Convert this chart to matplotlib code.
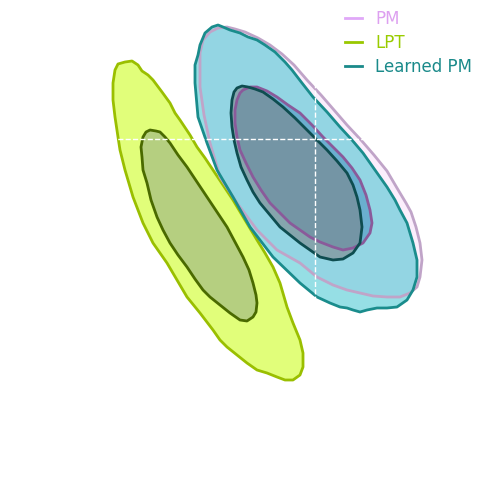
import numpy as np
import matplotlib
matplotlib.use("Agg")
import matplotlib.pyplot as plt

# contour outlines (x, y in plot units, y grows downward)
lpt_outer_x = [113, 115, 118, 125, 132, 138, 142, 148, 153, 162, 170, 175, 180, 190, 197, 205, 213, 223,
               233, 245, 257, 265, 273, 280, 287, 293, 300, 303, 303, 300, 293, 285, 277, 267, 257, 247,
               237, 227, 220, 213, 200, 187, 177, 167, 153, 143, 133, 125, 120, 118, 115, 113]
lpt_outer_y = [83, 70, 64, 62, 61, 65, 71, 75, 80, 92, 103, 113, 120, 135, 147, 158, 170, 185,
               200, 220, 240, 253, 267, 283, 307, 323, 340, 353, 367, 375, 380, 380, 377, 373, 370, 363,
               355, 347, 340, 330, 313, 297, 280, 263, 243, 223, 197, 170, 150, 137, 117, 100]

lpt_inner_x = [143, 146, 150, 156, 160, 165, 170, 178, 187, 197, 207, 217, 227, 235, 243, 249, 253, 256,
               257, 256, 253, 247, 240, 230, 220, 210, 203, 195, 187, 178, 170, 163, 157, 151, 147, 143,
               142, 141]
lpt_inner_y = [137, 132, 130, 131, 132, 137, 143, 155, 167, 182, 197, 212, 227, 242, 257, 270, 283, 295,
               303, 312, 317, 321, 320, 313, 305, 297, 290, 279, 267, 255, 243, 230, 217, 200, 183, 170,
               157, 147]

pm_outer_x = [200, 203, 210, 218, 227, 235, 245, 258, 270, 282, 294, 307, 321, 334, 347, 361, 374, 387,
              397, 406, 411, 416, 420, 422, 420, 417, 410, 400, 387, 373, 360, 347, 333, 317, 300, 277,
              257, 237, 220, 210, 204, 200]
pm_outer_y = [53, 40, 32, 28, 27, 29, 32, 38, 45, 54, 65, 80, 95, 110, 125, 140, 155, 171,
              188, 203, 212, 227, 243, 260, 277, 287, 293, 297, 297, 296, 293, 290, 285, 277, 263, 250,
              230, 203, 177, 143, 115, 87]

pm_inner_x = [237, 240, 243, 250, 257, 267, 277, 288, 300, 312, 323, 333, 343, 352, 360, 366, 370, 372,
              370, 363, 353, 343, 333, 320, 310, 300, 290, 280, 270, 261, 253, 246, 240, 237, 235, 235]
pm_inner_y = [100, 93, 90, 87, 87, 91, 97, 105, 113, 125, 137, 147, 157, 168, 180, 195, 210, 223,
              233, 243, 248, 250, 247, 242, 237, 230, 223, 213, 203, 190, 177, 163, 150, 137, 123, 110]

learned_outer_x = [195, 198, 200, 205, 212, 218, 223, 230, 240, 248, 257, 265, 275, 285, 292, 302, 313,
                   327, 340, 352, 363, 375, 387, 395, 400, 407, 413, 417, 417, 413, 407, 397, 387, 377,
                   367, 360, 353, 347, 340, 330, 317, 300, 273, 250, 233, 217, 207, 198, 195]
learned_outer_y = [65, 55, 45, 33, 27, 25, 27, 30, 33, 37, 40, 45, 52, 62, 70, 83, 97,
                   112, 127, 140, 153, 170, 187, 200, 210, 223, 243, 260, 277, 290, 300, 307, 308, 308,
                   310, 312, 310, 308, 307, 303, 297, 283, 257, 227, 197, 170, 143, 117, 83]

learned_inner_x = [232, 234, 237, 242, 248, 255, 263, 273, 283, 295, 307, 317, 327, 337, 347, 353, 357,
                   360, 362, 360, 353, 343, 333, 320, 310, 300, 290, 280, 270, 260, 253, 247, 241, 237,
                   234, 232, 231]
learned_inner_y = [100, 92, 88, 86, 87, 89, 92, 99, 107, 118, 130, 140, 150, 161, 173, 185, 197,
                   210, 227, 243, 253, 259, 260, 257, 250, 243, 235, 227, 215, 203, 192, 180, 167, 153,
                   140, 127, 113]

truth_x = 315
truth_y = 139

labels = ["PM", "LPT", "Learned PM"]

fig = plt.figure(figsize=(5, 5), dpi=100)
ax = fig.add_axes([0, 0, 1, 1])
ax.set_xlim(0, 500)
ax.set_ylim(500, 0)
ax.axis("off")

# PM (drawn first, underneath)
ax.fill(pm_outer_x, pm_outer_y, color="#fbeefc", lw=0, zorder=1)
ax.fill(pm_inner_x, pm_inner_y, color="#b0a8d8", lw=0, zorder=1.1)

# LPT
ax.fill(lpt_outer_x, lpt_outer_y, facecolor="#e1fe7a", edgecolor="#9abf00", lw=2,
        joinstyle="round", zorder=2)
ax.fill(lpt_inner_x, lpt_inner_y, facecolor="#b5cf80", edgecolor="#4a6a00", lw=2,
        joinstyle="round", zorder=2.1)

# Learned PM fills
ax.fill(learned_outer_x, learned_outer_y, color="#16b8c6", alpha=0.45, lw=0, zorder=3)
ax.fill(learned_inner_x, learned_inner_y, color="#7c858a", alpha=0.6, lw=0, zorder=3.1)

# PM outlines
ax.fill(pm_outer_x, pm_outer_y, fill=False, edgecolor="#c0a4c8", lw=2, joinstyle="round", zorder=4)
ax.fill(pm_inner_x, pm_inner_y, fill=False, edgecolor="#8a5a9a", lw=2, joinstyle="round", zorder=4.1)

# Learned PM outlines
ax.fill(learned_outer_x, learned_outer_y, fill=False, edgecolor="#1a8c8c", lw=2,
        joinstyle="round", zorder=5)
ax.fill(learned_inner_x, learned_inner_y, fill=False, edgecolor="#0e4d50", lw=2,
        joinstyle="round", zorder=5.1)

# truth markers
ax.axvline(truth_x, color="white", ls="--", lw=1, zorder=6)
ax.axhline(truth_y, color="white", ls="--", lw=1, zorder=6)

handles = [
    plt.Line2D([], [], color="#e0a8f8", lw=2),
    plt.Line2D([], [], color="#99c800", lw=2),
    plt.Line2D([], [], color="#1a8a8a", lw=2),
]
leg = ax.legend(handles, labels, loc="upper right", bbox_to_anchor=(0.968, 1.003), frameon=False,
                fontsize=12, handlelength=1, borderaxespad=0.3, labelspacing=0.35)
for txt, col in zip(leg.get_texts(), ["#dda0f0", "#99cc00", "#1a8a8a"]):
    txt.set_color(col)

fig.savefig("out.png", dpi=100)
